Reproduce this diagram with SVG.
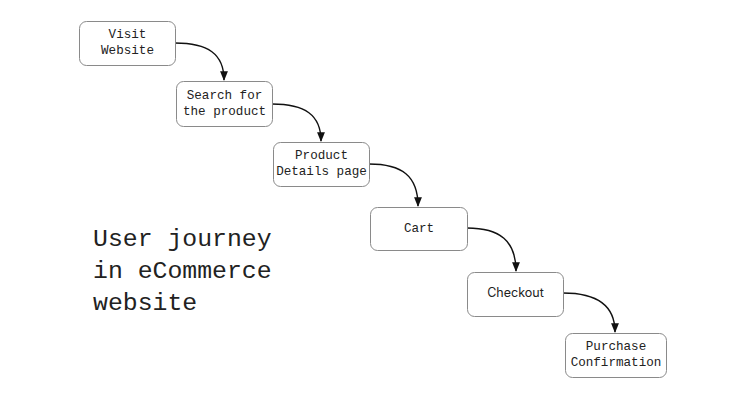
<svg xmlns="http://www.w3.org/2000/svg" width="744" height="400" viewBox="0 0 744 400">
<style>
.box{fill:#fff;stroke:#8a8a8a;stroke-width:1}
.t{font-family:"Liberation Mono","DejaVu Sans Mono",monospace;font-size:12.6px;fill:#222;text-anchor:middle}
.s{font-family:Inter,"Noto Sans",sans-serif;font-size:12.5px;fill:#222;text-anchor:middle}
.title{font-family:"Liberation Mono","DejaVu Sans Mono",monospace;font-size:24.8px;fill:#222}
.c{fill:none;stroke:#111;stroke-width:1.4}
</style>
<defs>
<marker id="ah" viewBox="0 0 10 10" refX="9" refY="5" markerWidth="7" markerHeight="7" orient="auto">
<path d="M0,1 L10,5 L0,9 Z" fill="#111"/>
</marker>
</defs>
<rect width="744" height="400" fill="#fff"/>
<g id="connectors">
<path class="c" marker-end="url(#ah)" d="M175,43 C208,43 224,54 224,80"/>
<path class="c" marker-end="url(#ah)" d="M272,104 C305,104 321,115 321,141"/>
<path class="c" marker-end="url(#ah)" d="M369,164 C402,164 418,176 418,206"/>
<path class="c" marker-end="url(#ah)" d="M467,228 C500,228 516,241 516,271"/>
<path class="c" marker-end="url(#ah)" d="M563,293 C596,293 615,305 615,332"/>
</g>
<g id="visit">
<rect class="box" x="79.5" y="21.5" width="96" height="44" rx="7"/>
<text class="t" x="127.5" y="38">Visit</text>
<text class="t" x="127.5" y="54">Website</text>
</g>
<g id="search">
<rect class="box" x="176.5" y="81.5" width="96" height="45" rx="7"/>
<text class="t" x="224.5" y="99">Search for</text>
<text class="t" x="224.5" y="115">the product</text>
</g>
<g id="details">
<rect class="box" x="273.5" y="142.5" width="96" height="44" rx="7"/>
<text class="t" x="321.5" y="159">Product</text>
<text class="t" x="321.5" y="175">Details page</text>
</g>
<g id="cart">
<rect class="box" x="370.5" y="207.5" width="97" height="43" rx="7"/>
<text class="t" x="419" y="232">Cart</text>
</g>
<g id="checkout">
<rect class="box" x="467.5" y="272.5" width="96" height="44" rx="7"/>
<text class="s" x="515.5" y="297">Checkout</text>
</g>
<g id="purchase">
<rect class="box" x="565.5" y="333.5" width="101" height="44" rx="7"/>
<text class="t" x="616" y="350">Purchase</text>
<text class="t" x="616" y="366">Confirmation</text>
</g>
<g id="title">
<text class="title" x="93" y="246">User journey</text>
<text class="title" x="93" y="278">in eCommerce</text>
<text class="title" x="93" y="310">website</text>
</g>
</svg>
